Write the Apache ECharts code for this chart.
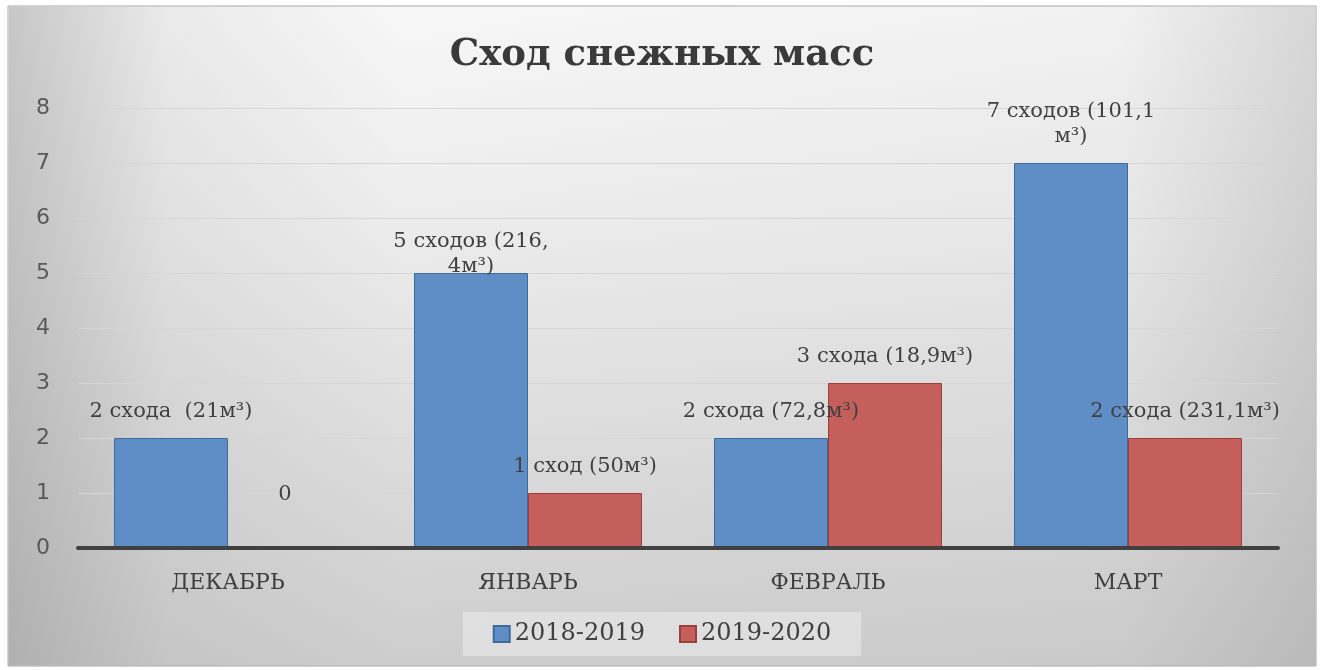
<!DOCTYPE html>
<html lang="ru">
  <head>
    <meta charset="UTF-8" />
    <title>Сход снежных масс</title>
    <script src="https://cdn.jsdelivr.net/npm/echarts@6.0.0/dist/echarts.min.js"></script>
    <style>
      html, body { margin: 0; padding: 0; background: #ffffff; }
      #chart { width: 1324px; height: 670px; }
    </style>
  </head>
  <body>
    <div id="chart"></div>

    <script type="text/javascript">
      // data
      const categories = ["ДЕКАБРЬ", "ЯНВАРЬ", "ФЕВРАЛЬ", "МАРТ"];
      const seriesNames = ["2018-2019", "2019-2020"];
      const season1 = [2, 5, 2, 7];
      const season2 = [0, 1, 3, 2];
      const notes1 = ["2 схода  (21м³)", "5 сходов (216,\n4м³)", "2 схода (72,8м³)", "7 сходов (101,1\nм³)"];
      const notes2 = ["0", "1 сход (50м³)", "3 схода (18,9м³)", "2 схода (231,1м³)"];

      // label gaps above the bars (the original labels were moved by hand)
      const gap1 = [14, -6, 14, 14];
      const gap2 = [40, 14, 14, 14];

      const serif = "DejaVu Serif";
      const textColor = "#404040";

      const chart = echarts.init(document.getElementById("chart"));

      function buildData(values, notes, gaps) {
        return values.map((v, i) => ({
          value: v,
          label: { formatter: notes[i], distance: gaps[i] },
        }));
      }

      const labelStyle = {
        show: true,
        position: "top",
        fontFamily: serif,
        fontSize: 21,
        lineHeight: 25,
        color: textColor,
        align: "center",
      };

      const frame = { x: 8, y: 6, width: 1308, height: 660 };

      let option = {
        animation: false,
        // grey framed backdrop: light at the top, darker towards the bottom and the sides
        graphic: [
          {
            type: "rect",
            z: -20,
            silent: true,
            shape: frame,
            style: {
              fill: {
                type: "linear",
                x: 0, y: 0, x2: 0, y2: 1,
                colorStops: [
                  { offset: 0, color: "#f7f7f7" },
                  { offset: 0.35, color: "#ebebeb" },
                  { offset: 1, color: "#cdcdcd" },
                ],
              },
              stroke: "#a8a8a8",
              lineWidth: 1,
            },
          },
          {
            type: "rect",
            z: -19,
            silent: true,
            shape: { x: frame.x + 1, y: frame.y + 1, width: frame.width - 2, height: frame.height - 2 },
            style: {
              fill: {
                type: "linear",
                x: 0, y: 0, x2: 1, y2: 0,
                colorStops: [
                  { offset: 0, color: "rgba(140,140,140,0.45)" },
                  { offset: 0.12, color: "rgba(140,140,140,0.12)" },
                  { offset: 0.3, color: "rgba(140,140,140,0)" },
                  { offset: 0.85, color: "rgba(140,140,140,0.05)" },
                  { offset: 1, color: "rgba(140,140,140,0.3)" },
                ],
              },
            },
          },
        ],
        title: {
          text: "Сход снежных масс",
          left: "center",
          top: 32,
          textStyle: {
            fontFamily: serif,
            fontWeight: "bold",
            fontSize: 37,
            color: "#3a3a3a",
          },
        },
        legend: {
          data: seriesNames,
          bottom: 14,
          left: "center",
          icon: "rect",
          itemWidth: 16,
          itemHeight: 16,
          itemGap: 34,
          padding: [10, 30],
          backgroundColor: "rgba(240,240,240,0.5)",
          textStyle: {
            fontFamily: serif,
            fontSize: 24,
            color: textColor,
          },
        },
        grid: { left: 78, right: 46, top: 108, bottom: 122 },
        xAxis: {
          type: "category",
          data: categories,
          z: 5,
          axisLine: { lineStyle: { color: "#404040", width: 4 } },
          axisTick: { show: false },
          axisLabel: {
            margin: 24,
            fontFamily: serif,
            fontSize: 22,
            color: textColor,
          },
        },
        yAxis: {
          type: "value",
          min: 0,
          max: 8,
          interval: 1,
          axisLine: { show: false },
          axisTick: { show: false },
          axisLabel: {
            margin: 28,
            fontFamily: "DejaVu Sans",
            fontSize: 22,
            color: "#595959",
          },
          splitLine: { lineStyle: { color: "#d6d6d6", width: 1 } },
        },
        series: [
          {
            name: seriesNames[0],
            type: "bar",
            data: buildData(season1, notes1, gap1),
            barGap: "0%",
            barCategoryGap: "24%",
            itemStyle: { color: "#5f8ec6", borderColor: "#3f6a9c", borderWidth: 1 },
            label: labelStyle,
          },
          {
            name: seriesNames[1],
            type: "bar",
            data: buildData(season2, notes2, gap2),
            barGap: "0%",
            barCategoryGap: "24%",
            itemStyle: { color: "#c55f5b", borderColor: "#9e3e3a", borderWidth: 1 },
            label: labelStyle,
          },
        ],
      };

      chart.setOption(option);
    </script>
  </body>
</html>
